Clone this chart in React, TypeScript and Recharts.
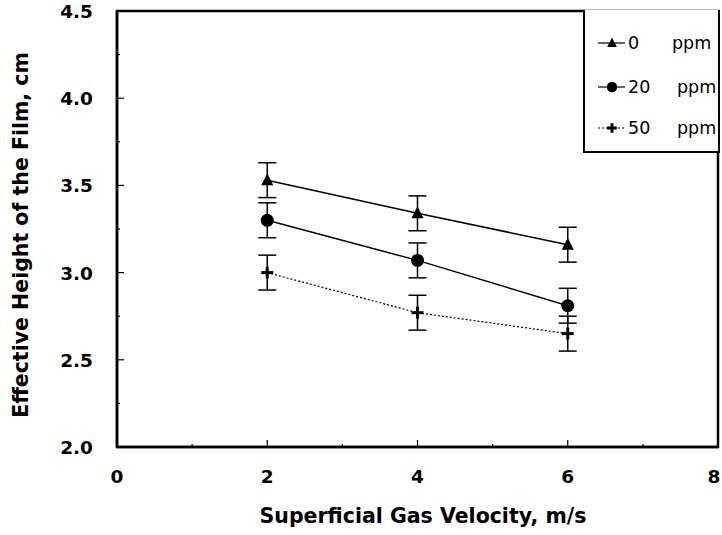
import { ComposedChart, Line, XAxis, YAxis, ErrorBar, ReferenceArea } from 'recharts';

const velocity = [2, 4, 6];
const ppm0 = [3.53, 3.34, 3.16];
const ppm20 = [3.3, 3.07, 2.81];
const ppm50 = [3.0, 2.77, 2.65];
const errs = [0.1, 0.1, 0.1];

const xTicks = [0, 1, 2, 3, 4, 5, 6, 7, 8];
const xLabels = [0, 2, 4, 6, 8];
const yTicks = [2, 2.25, 2.5, 2.75, 3, 3.25, 3.5, 3.75, 4, 4.25, 4.5];
const yLabels = [2, 2.5, 3, 3.5, 4, 4.5];

const seriesNames = ['0', '20', '50'];

const data = velocity.map((v, i) => ({
  v,
  a: ppm0[i],
  b: ppm20[i],
  c: ppm50[i],
  err: errs[i],
}));

const FONT = '"DejaVu Sans", Verdana, sans-serif';
const Y_MARGIN = 24;
const X_MARGIN = 20;

function YTick(props: any) {
  const { x, y, payload } = props;
  const ax = x + Y_MARGIN;
  const major = yLabels.some((t) => Math.abs(t - payload.value) < 1e-6);
  return (
    <g>
      <line x1={ax} x2={ax + (major ? 7 : 3)} y1={y} y2={y} stroke="#000" strokeWidth={1.2} />
      {major && (
        <text x={x} y={y} dy={7} textAnchor="end" fontFamily={FONT} fontWeight="bold" fontSize={18.5} fill="#000">
          {payload.value.toFixed(1)}
        </text>
      )}
    </g>
  );
}

function XTick(props: any) {
  const { x, y, payload } = props;
  const ay = y - X_MARGIN;
  const major = xLabels.includes(payload.value);
  // last label sits at the page edge; nudge it in so it stays readable
  const last = payload.value === 8;
  return (
    <g>
      {payload.value > 0 && payload.value < 8 && (
        <line x1={x} x2={x} y1={ay} y2={ay - (major ? 7 : 3)} stroke="#000" strokeWidth={1.2} />
      )}
      {major && (
        <text x={last ? x - 4 : x} y={y} dy={16} textAnchor="middle" fontFamily={FONT} fontWeight="bold" fontSize={18.5} fill="#000">
          {payload.value}
        </text>
      )}
    </g>
  );
}

function XTitle() {
  return (
    <text x={423} y={523} textAnchor="middle" fontFamily={FONT} fontWeight="bold" fontSize={20.5} fill="#000">
      Superficial Gas Velocity, m/s
    </text>
  );
}

function YTitle() {
  return (
    <text x={28} y={235} transform="rotate(-90, 28, 235)" textAnchor="middle" fontFamily={FONT} fontWeight="bold" fontSize={20.5} fill="#000">
      Effective Height of the Film, cm
    </text>
  );
}

function Triangle(props: any) {
  const { cx, cy, s = 1 } = props;
  if (cx == null || cy == null) return null;
  return <path d={`M${cx},${cy - 7 * s} L${cx + 6 * s},${cy + 5 * s} L${cx - 6 * s},${cy + 5 * s} Z`} fill="#000" />;
}

function Dot(props: any) {
  const { cx, cy, s = 1 } = props;
  if (cx == null || cy == null) return null;
  return <circle cx={cx} cy={cy} r={6.5 * s} fill="#000" />;
}

function Plus(props: any) {
  const { cx, cy, s = 1 } = props;
  if (cx == null || cy == null) return null;
  return (
    <g>
      <rect x={cx - 6 * s} y={cy - 1.5} width={12 * s} height={3} fill="#000" />
      <rect x={cx - 1.5} y={cy - 6 * s} width={3} height={12 * s} fill="#000" />
    </g>
  );
}

const markers = [Triangle, Dot, Plus];
const rowCenters = [43, 87, 128];
const ppmLeft = [87, 92, 92];

function LegendBox() {
  return (
    <div
      style={{
        position: 'absolute',
        left: 583,
        top: 10,
        border: '2px solid #000',
        borderTop: 'none',
        background: '#fff',
        width: 137,
        height: 143,
        boxSizing: 'border-box',
        fontFamily: FONT,
        fontSize: 17.5,
      }}
    >
      {seriesNames.map((n, i) => {
        const M = markers[i];
        return (
          <div key={n} style={{ position: 'absolute', left: 0, top: rowCenters[i] - 10 - 11, height: 22, width: 133 }}>
            <svg width={44} height={22} style={{ position: 'absolute', left: 0, top: 0 }}>
              <line x1={13} x2={40} y1={11} y2={11} stroke="#000" strokeWidth={1.2} strokeDasharray={i === 2 ? '2 2' : undefined} />
              <M cx={27} cy={11} s={0.8} />
            </svg>
            <span style={{ position: 'absolute', left: 43, top: 0, lineHeight: '22px' }}>{n}</span>
            <span style={{ position: 'absolute', left: ppmLeft[i], top: 0, lineHeight: '22px' }}>ppm</span>
          </div>
        );
      })}
    </div>
  );
}

export default function App() {
  return (
    <div style={{ position: 'absolute', left: 0, top: 0, width: 722, height: 535, background: '#fff' }}>
      <ComposedChart width={722} height={535} data={data} margin={{ top: 11, right: 4, bottom: 0, left: 0 }}>
        <XAxis
          dataKey="v"
          type="number"
          domain={[0, 8]}
          ticks={xTicks}
          interval={0}
          tickSize={0}
          tickMargin={X_MARGIN}
          tickLine={false}
          tick={<XTick />}
          height={88}
          axisLine={{ stroke: '#000', strokeWidth: 2.5 }}
          label={<XTitle />}
        />
        <YAxis
          type="number"
          domain={[2, 4.5]}
          ticks={yTicks}
          interval={0}
          tickSize={0}
          tickMargin={Y_MARGIN}
          tickLine={false}
          tick={<YTick />}
          width={117}
          axisLine={{ stroke: '#000', strokeWidth: 2.5 }}
          label={<YTitle />}
        />
        <ReferenceArea x1={0} x2={8} y1={2} y2={4.5} fill="none" stroke="#000" strokeWidth={2.5} ifOverflow="visible" />
        <Line dataKey="a" name="0 ppm" stroke="#000" strokeWidth={1.5} dot={<Triangle />} activeDot={false} isAnimationActive={false}>
          <ErrorBar dataKey="err" width={9} stroke="#000" strokeWidth={1.5} direction="y" />
        </Line>
        <Line dataKey="b" name="20 ppm" stroke="#000" strokeWidth={1.5} dot={<Dot />} activeDot={false} isAnimationActive={false}>
          <ErrorBar dataKey="err" width={9} stroke="#000" strokeWidth={1.5} direction="y" />
        </Line>
        <Line dataKey="c" name="50 ppm" stroke="#000" strokeWidth={1.2} strokeDasharray="2 2" dot={<Plus />} activeDot={false} isAnimationActive={false}>
          <ErrorBar dataKey="err" width={9} stroke="#000" strokeWidth={1.5} direction="y" />
        </Line>
      </ComposedChart>
      <LegendBox />
    </div>
  );
}
